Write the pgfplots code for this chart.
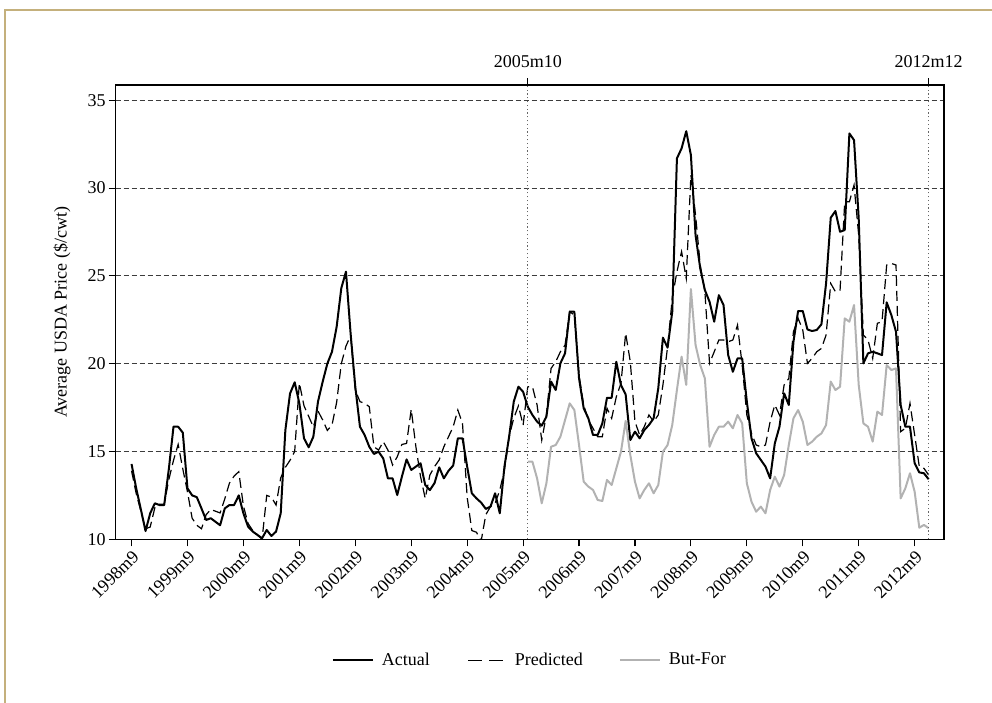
\documentclass[border=0pt]{standalone}
\usepackage{fontspec}
\setmainfont{Liberation Serif}
\usepackage{pgfplots}
\pgfplotsset{compat=1.18}
\usepackage{pgfplotstable}
\definecolor{frametan}{RGB}{196,176,124}
\definecolor{butfor}{RGB}{178,178,178}
\definecolor{gridgray}{RGB}{60,60,60}

\pgfplotstableread{
t act pred
0 14.29 13.9
1 12.9 12.6
2 11.7 11.6
3 10.47 10.6
4 11.48 10.7
5 12.05 11.8
6 11.95 12.0
7 11.95 12.0
8 14.0 13.4
9 16.41 14.5
10 16.41 15.4
11 16.07 14.0
12 12.9 12.7
13 12.5 11.2
14 12.4 10.8
15 11.76 10.6
16 11.1 11.4
17 11.2 11.7
18 11.0 11.6
19 10.8 11.5
20 11.76 12.3
21 11.95 13.2
22 11.95 13.6
23 12.5 13.85
24 11.48 11.9
25 10.72 10.9
26 10.44 10.5
27 10.25 10.25
28 10.06 10.0
29 10.53 12.5
30 10.19 12.4
31 10.44 11.95
32 11.48 13.5
33 16.22 14.1
34 18.3 14.5
35 18.94 15.0
36 17.74 18.9
37 15.75 17.6
38 15.24 17.0
39 15.84 16.4
40 17.84 17.3
41 18.97 16.8
42 20.0 16.2
43 20.68 16.5
44 22.1 17.8
45 24.3 20.0
46 25.24 21.0
47 21.7 21.6
48 18.69 18.5
49 16.41 17.84
50 15.94 17.74
51 15.27 17.55
52 14.86 15.27
53 14.99 15.08
54 14.6 15.56
55 13.47 15.08
56 13.47 14.23
57 12.52 14.7
58 13.57 15.4
59 14.55 15.46
60 13.95 17.4
61 14.14 15.27
62 14.33 13.57
63 13.1 12.33
64 12.8 13.66
65 13.2 14.14
66 14.1 14.52
67 13.47 15.27
68 13.9 15.84
69 14.2 16.41
70 15.75 17.36
71 15.75 16.6
72 14.14 12.4
73 12.62 10.5
74 12.33 10.4
75 12.09 9.9
76 11.73 11.4
77 11.86 11.86
78 12.62 12.05
79 11.48 12.8
80 14.14 13.95
81 15.84 15.84
82 17.84 16.9
83 18.69 17.6
84 18.4 16.5
85 17.55 18.69
86 17.08 18.69
87 16.7 17.65
88 16.47 15.65
89 16.98 17.08
90 18.98 19.73
91 18.5 20.11
92 20.02 20.68
93 20.59 21.06
94 22.96 22.96
95 22.96 22.77
96 19.17 19.35
97 17.46 17.65
98 16.89 16.79
99 15.94 16.32
100 15.94 15.84
101 16.6 15.84
102 18.06 17.46
103 18.06 16.89
104 20.11 18.12
105 18.78 18.88
106 18.25 21.73
107 15.65 20.11
108 16.13 16.7
109 15.75 15.94
110 16.22 16.41
111 16.51 17.08
112 16.89 16.7
113 18.6 17.08
114 21.48 18.79
115 20.91 20.97
116 22.96 23.72
117 31.69 25.24
118 32.26 26.38
119 33.24 24.86
120 31.88 30.74
121 27.32 28.46
122 25.43 25.62
123 24.19 24.1
124 23.53 20.02
125 22.39 20.68
126 23.9 21.35
127 23.34 21.35
128 20.49 21.25
129 19.54 21.35
130 20.3 22.2
131 20.3 19.92
132 17.84 17.08
133 15.75 16.03
134 14.9 15.37
135 14.52 15.27
136 14.14 15.37
137 13.47 16.7
138 15.46 17.65
139 16.41 17.08
140 18.31 18.79
141 17.65 19.16
142 21.25 21.82
143 23.0 22.58
144 23.0 21.92
145 21.95 20.02
146 21.86 20.3
147 21.92 20.68
148 22.24 20.87
149 24.57 21.63
150 28.31 24.57
151 28.69 24.1
152 27.51 24.19
153 27.61 29.22
154 33.11 29.22
155 32.73 30.17
156 28.27 27.32
157 20.02 21.63
158 20.59 21.35
159 20.68 20.3
160 20.59 22.3
161 20.49 22.39
162 23.49 25.62
163 22.77 25.71
164 21.82 25.62
165 17.65 16.13
166 16.41 16.32
167 16.41 17.74
168 14.33 15.94
169 13.81 14.14
170 13.76 14.04
171 13.42 13.66
}\mainT

\pgfplotstableread{
t bf
85 14.42
86 14.42
87 13.47
88 12.05
89 13.19
90 15.27
91 15.37
92 15.84
93 16.79
94 17.74
95 17.36
96 15.37
97 13.28
98 13.0
99 12.81
100 12.24
101 12.18
102 13.38
103 13.09
104 14.04
105 14.99
106 16.74
107 14.8
108 13.28
109 12.33
110 12.81
111 13.19
112 12.62
113 13.09
114 14.99
115 15.37
116 16.51
117 18.5
118 20.4
119 18.79
120 24.25
121 21.06
122 19.92
123 19.16
124 15.27
125 15.94
126 16.41
127 16.41
128 16.7
129 16.32
130 17.08
131 16.6
132 13.19
133 12.14
134 11.57
135 11.86
136 11.48
137 12.81
138 13.57
139 13.0
140 13.66
141 15.37
142 16.89
143 17.36
144 16.7
145 15.37
146 15.56
147 15.84
148 16.03
149 16.51
150 18.98
151 18.5
152 18.69
153 22.58
154 22.39
155 23.34
156 18.79
157 16.6
158 16.41
159 15.56
160 17.27
161 17.08
162 19.92
163 19.64
164 19.73
165 12.33
166 12.9
167 13.76
168 12.71
169 10.66
170 10.82
171 10.63
}\bfT

\begin{document}
\fontsize{18}{21}\selectfont
\begin{tikzpicture}
\useasboundingbox (0pt,0pt) rectangle (992pt,703pt);
\draw[frametan, line width=2.5pt] (5pt,0pt) -- (5pt,693pt) -- (992pt,693pt);
\begin{axis}[
  at={(115.7pt,163.7pt)}, anchor=south west,
  scale only axis, width=828.3pt, height=454.3pt,
  xmin=-3.4, xmax=174.3, ymin=10, ymax=35.87,
  clip mode=individual,
  axis line style={line width=1.2pt, black},
  xtick={0,12,24,36,48,60,72,84,96,108,120,132,144,156,168},
  xticklabels={1998m9,1999m9,2000m9,2001m9,2002m9,2003m9,2004m9,2005m9,2006m9,2007m9,2008m9,2009m9,2010m9,2011m9,2012m9},
  ytick={10,15,20,25,30,35},
  xtick pos=lower, ytick pos=left,
  tick align=outside, major tick length=7pt,
  every tick/.style={black, line width=1.1pt},
  /pgf/number format/assume math mode=true,
  ticklabel style={font=\fontsize{18}{21}\selectfont},
  xticklabel style={rotate=45, anchor=north east, inner sep=2pt},
  yticklabel style={inner sep=3pt},
  ymajorgrids,
  grid style={gridgray, line width=0.9pt, dash pattern=on 5pt off 3pt},
  ylabel={Average USDA Price (\$/cwt)},
  ylabel style={at={(axis description cs:-0.0648,0.5)}, anchor=center, font=\fontsize{18}{21}\selectfont},
  legend style={at={(0.5,-0.266)}, anchor=center, draw=none, fill=none,
    legend columns=3, font=\fontsize{18}{21}\selectfont,
    /tikz/every even column/.append style={column sep=34pt},
    /tikz/every odd column/.append style={column sep=6pt}},
  legend image code/.code={\draw[#1] (0pt,0pt) -- (40pt,0pt);},
]
\addplot[black, line width=2pt, line join=round] table[x=t, y=act] {\mainT};
\addlegendentry{Actual}
\addplot[black, line width=1.2pt, dash pattern=on 10pt off 5pt,
  legend image post style={dash pattern=on 14pt off 7pt, dash phase=-2pt}] table[x=t, y=pred] {\mainT};
\addlegendentry{Predicted}
\addplot[butfor, line width=2pt, line join=round] table[x=t, y=bf] {\bfT};
\addlegendentry{But-For}
\draw[black!60, line width=1.2pt, dash pattern=on 1.2pt off 2.6pt] (axis cs:85,10) -- (axis cs:85,35.87);
\draw[black!60, line width=1.2pt, dash pattern=on 1.2pt off 2.6pt] (axis cs:171,10) -- (axis cs:171,35.87);
\draw[black, line width=1.1pt] (axis cs:85,35.87) -- ++(0pt,7pt);
\draw[black, line width=1.1pt] (axis cs:171,35.87) -- ++(0pt,7pt);
\node[anchor=base, inner sep=0pt, yshift=17pt] at (axis cs:85,35.87) {2005m10};
\node[anchor=base, inner sep=0pt, yshift=17pt] at (axis cs:171,35.87) {2012m12};
\end{axis}
\end{tikzpicture}
\end{document}
